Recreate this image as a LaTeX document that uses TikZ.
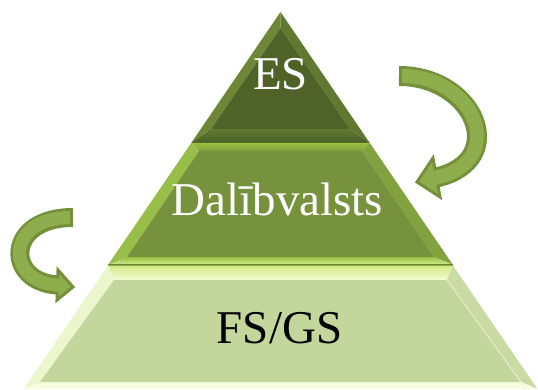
\documentclass[tikz,border=0pt]{standalone}
\usepackage{fontspec}
\setmainfont{Liberation Serif}
\usetikzlibrary{calc}

% layer colours
\definecolor{esface}{RGB}{79,98,40}
\definecolor{esleft}{RGB}{108,136,54}
\definecolor{esright}{RGB}{96,121,48}
\definecolor{esbotA}{RGB}{96,122,47}
\definecolor{esbotB}{RGB}{74,94,37}
\definecolor{dvface}{RGB}{118,146,60}
\definecolor{dvtopA}{RGB}{150,192,64}
\definecolor{dvtopB}{RGB}{128,160,60}
\definecolor{dvleft}{RGB}{152,190,74}
\definecolor{dvright}{RGB}{130,162,64}
\definecolor{dvbotA}{RGB}{150,194,62}
\definecolor{dvbotB}{RGB}{214,236,150}
\definecolor{dvline}{RGB}{104,134,44}
\definecolor{gsface}{RGB}{195,214,155}
\definecolor{gstopA}{RGB}{208,234,132}
\definecolor{gstopB}{RGB}{246,251,212}
\definecolor{gsleft}{RGB}{236,246,204}
\definecolor{gsright}{RGB}{200,219,162}
\definecolor{gsbottom}{RGB}{246,252,222}
% arrow colours
\definecolor{arrowline}{RGB}{116,145,58}
\definecolor{arrowfill}{RGB}{142,174,78}

\begin{document}
\begin{tikzpicture}[x=1pt, y=-1pt,
  lbl/.style={font=\fontsize{47}{50}\selectfont, inner sep=0pt, anchor=base},
  arrowedge/.style={draw=arrowline, line width=#1},
  arrowcore/.style={draw=arrowfill, line width=#1, shorten <=3pt},
  arrowhead/.style={fill=arrowfill, draw=arrowline, line width=3pt, line join=miter}
]
\useasboundingbox (0,0) rectangle (538,390);

% top layer: ES
\coordinate (esO1) at (280.5,12);
\coordinate (esO2) at (191.2,143);
\coordinate (esO3) at (369.8,143);
\coordinate (esI1) at (280.5,28);
\coordinate (esI2) at (211,129);
\coordinate (esI3) at (350,129);
\fill[esleft] (esO1) -- (esO2) -- (esI2) -- (esI1) -- cycle;
\fill[esright] (esO1) -- (esI1) -- (esI3) -- (esO3) -- cycle;
\shade[top color=esbotA, bottom color=esbotB] (esI2) -- (esO2) -- (esO3) -- (esI3) -- cycle;
\fill[esface] (esI1) -- (esI2) -- (esI3) -- cycle;

% middle layer: Dalibvalsts
\coordinate (dvO1) at (191.2,143);
\coordinate (dvO2) at (369.8,143);
\coordinate (dvO3) at (453,265);
\coordinate (dvO4) at (108,265);
\coordinate (dvI1) at (199,151);
\coordinate (dvI2) at (362,151);
\coordinate (dvI3) at (434,257);
\coordinate (dvI4) at (127,257);
\shade[top color=dvtopA, bottom color=dvtopB] (dvO1) -- (dvO2) -- (dvI2) -- (dvI1) -- cycle;
\fill[dvright] (dvO2) -- (dvO3) -- (dvI3) -- (dvI2) -- cycle;
\shade[top color=dvbotA, bottom color=dvbotB] (dvO3) -- (dvO4) -- (dvI4) -- (dvI3) -- cycle;
\fill[dvleft] (dvO4) -- (dvO1) -- (dvI1) -- (dvI4) -- cycle;
\fill[dvface] (dvI1) -- (dvI2) -- (dvI3) -- (dvI4) -- cycle;
\draw[dvline, line width=1.2pt] (dvO4) -- (dvO3);

% bottom layer: FS/GS
\coordinate (gsO1) at (108,265.6);
\coordinate (gsO2) at (453,265.6);
\coordinate (gsO3) at (537.5,389);
\coordinate (gsO4) at (23.5,389);
\coordinate (gsI1) at (114,280);
\coordinate (gsI2) at (447,280);
\coordinate (gsI3) at (521,382);
\coordinate (gsI4) at (40,382);
\shade[top color=gstopA, bottom color=gstopB] (gsO1) -- (gsO2) -- (gsI2) -- (gsI1) -- cycle;
\fill[gsright] (gsO2) -- (gsO3) -- (gsI3) -- (gsI2) -- cycle;
\fill[gsbottom] (gsO3) -- (gsO4) -- (gsI4) -- (gsI3) -- cycle;
\fill[gsleft] (gsO4) -- (gsO1) -- (gsI1) -- (gsI4) -- cycle;
\fill[gsface] (gsI1) -- (gsI2) -- (gsI3) -- (gsI4) -- cycle;
\draw[white, opacity=0.6, line width=0.8pt] (gsI2) -- (gsI3);

% labels
\node[lbl, text=white] (es) at (280.5,90) {ES};
\node[lbl, text=white] (dv) at (277.5,215) {Dalībvalsts};
\node[lbl, text=black] (fsgs) at (279.5,343) {FS/GS};

% right curved arrow
\coordinate (rTail) at (399,76);
\coordinate (rBase) at (436.5,177.5);
\coordinate (rTip) at (417,182);
\coordinate (rBarbA) at (433,158);
\coordinate (rBarbB) at (440,197);
\draw[arrowedge=20pt] (rTail) .. controls (475,76) and (510,160.5) .. (rBase);
\draw[arrowhead] (rBarbA) -- (rTip) -- (rBarbB) -- cycle;
\draw[arrowcore=14pt] (rTail) .. controls (475,76) and (510,160.5) .. (rBase)
  -- ($(rBase)!4pt!(rTip)$);

% left curved arrow
\coordinate (lTail) at (73,217.5);
\coordinate (lBase) at (57.5,285);
\coordinate (lTip) at (73,287);
\coordinate (lBarbA) at (58,270);
\coordinate (lBarbB) at (57,300);
\draw[arrowedge=19pt] (lTail) .. controls (5,217.5) and (5,282) .. (lBase);
\draw[arrowhead] (lBarbA) -- (lTip) -- (lBarbB) -- cycle;
\draw[arrowcore=13pt] (lTail) .. controls (5,217.5) and (5,282) .. (lBase)
  -- ($(lBase)!4pt!(lTip)$);
\end{tikzpicture}
\end{document}
